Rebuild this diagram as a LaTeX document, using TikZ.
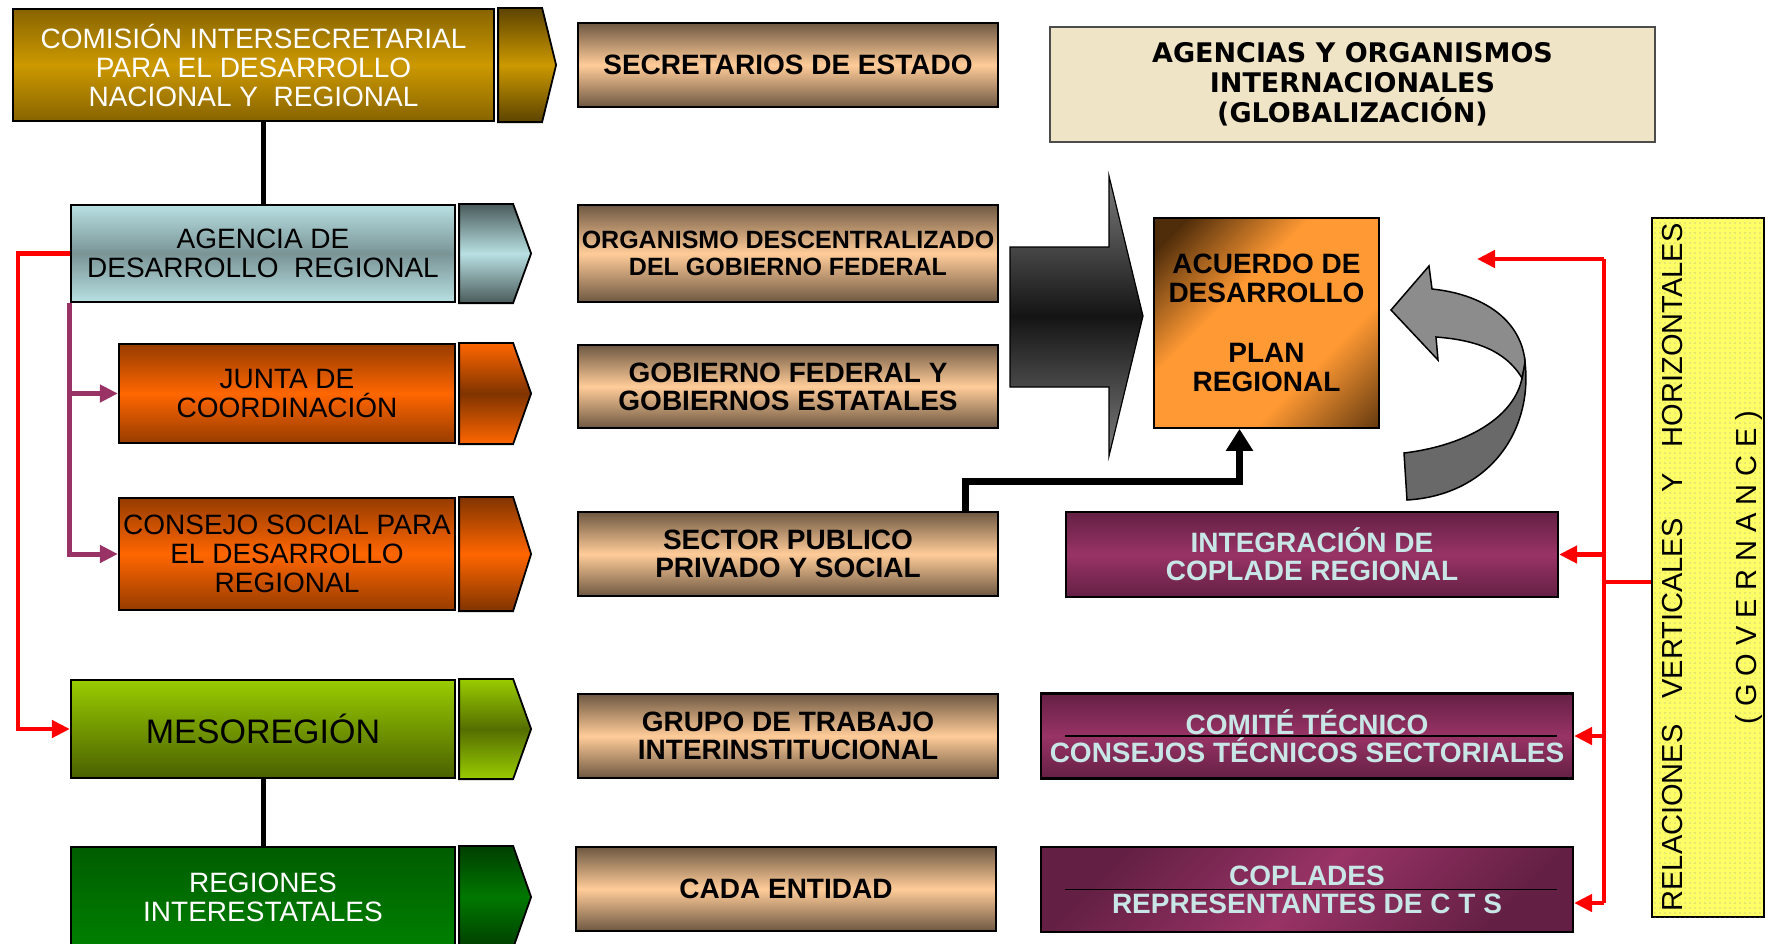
\documentclass[tikz,border=0pt]{standalone}
\usepackage{fontspec}
\setmainfont{Liberation Sans}
\newfontfamily\verdana{DejaVu Sans}
\usetikzlibrary{arrows.meta, patterns.meta}

\definecolor{acuOsc}{RGB}{80,45,10}
\definecolor{acuNar}{RGB}{255,153,51}
\pgfdeclareverticalshading{acuerdoSombra}{100bp}{color(0bp)=(acuOsc); color(12bp)=(acuOsc);
    color(35bp)=(acuNar); color(60bp)=(acuNar); color(80bp)=(acuOsc); color(100bp)=(acuOsc)}

\begin{document}
\begin{tikzpicture}[x=1pt, y=-1pt,
    caja/.style={draw=black, line width=2.2pt, inner sep=0pt, align=center},
    izq/.style={caja, minimum width=384, font=\fontsize{28}{29}\selectfont},
    centro/.style={caja, minimum width=420, minimum height=84, top color=tanOsc, bottom color=tanOsc, middle color=tanClaro, font=\bfseries\fontsize{28}{28}\selectfont},
    morado/.style={caja, minimum width=532, minimum height=85, top color=purOsc, bottom color=purOsc, middle color=purMed, text=purTexto, font=\bfseries\fontsize{28}{28}\selectfont},
    pestana/.style={draw=black, line width=1.8pt},
    conector/.style={line width=5pt},
    rojo/.style={red, line width=4.5pt},
    flechaRoja/.style={rojo, -{Triangle[length=18pt,width=17pt]}},
    flechaMorada/.style={purLinea, line width=5pt, -{Triangle[length=18pt,width=17pt]}},
    flechaNegra/.style={line width=7pt, -{Triangle[length=22pt,width=26pt]}}]
    % Colores
    \definecolor{oro}{RGB}{204,153,0}
    \definecolor{oroOsc}{RGB}{136,100,0}
    \definecolor{oroTab}{RGB}{92,67,0}
    \definecolor{celeste}{RGB}{184,224,226}
    \definecolor{celesteOsc}{RGB}{122,148,150}
    \definecolor{celTab}{RGB}{74,90,90}
    \definecolor{naranja}{RGB}{255,102,0}
    \definecolor{cafe}{RGB}{128,52,0}
    \definecolor{cafeBorde}{RGB}{150,60,0}
    \definecolor{verdeLima}{RGB}{153,204,0}
    \definecolor{verdeOliva}{RGB}{74,96,0}
    \definecolor{verdeMedio}{RGB}{85,110,0}
    \definecolor{verdeOsc}{RGB}{0,92,0}
    \definecolor{verde}{RGB}{0,128,0}
    \definecolor{verdeTab}{RGB}{0,62,0}
    \definecolor{verdeTabMed}{RGB}{0,120,0}
    \definecolor{tanOsc}{RGB}{110,88,66}
    \definecolor{tanClaro}{RGB}{255,204,153}
    \definecolor{purOsc}{RGB}{100,32,68}
    \definecolor{purMed}{RGB}{153,51,102}
    \definecolor{purTexto}{RGB}{200,230,230}
    \definecolor{purLinea}{RGB}{153,51,102}
    \definecolor{grisClaro}{RGB}{125,125,125}
    \definecolor{grisOsc}{RGB}{20,20,20}
    \definecolor{grisBanda}{RGB}{140,140,140}
    \definecolor{grisBandaOsc}{RGB}{105,105,105}
    \definecolor{amarillo}{RGB}{255,255,102}
    \definecolor{pergamino}{RGB}{240,228,198}

    \useasboundingbox (0,0) rectangle (1773,943);

    % Columna izquierda
    \node[izq, minimum width=481, minimum height=112, top color=oroOsc, bottom color=oroOsc, middle color=oro, text=white]
        (comision) at (253.5,65) {COMISIÓN INTERSECRETARIAL\\PARA EL DESARROLLO\\NACIONAL Y\ \ REGIONAL};
    \node[izq, minimum height=97, top color=celeste, bottom color=celeste, middle color=celesteOsc]
        (agencia) at (263,253.5) {AGENCIA DE\\DESARROLLO\ \ REGIONAL};
    \node[izq, minimum width=336, minimum height=99, top color=cafeBorde, bottom color=cafeBorde, middle color=naranja]
        (junta) at (287,393.5) {JUNTA DE\\COORDINACIÓN};
    \node[izq, minimum width=336, minimum height=112, top color=cafeBorde, bottom color=cafeBorde, middle color=naranja]
        (consejo) at (287,554) {CONSEJO SOCIAL PARA\\EL DESARROLLO\\REGIONAL};
    \node[izq, minimum height=98, top color=verdeLima, bottom color=verdeOliva, font=\fontsize{34}{34}\selectfont]
        (meso) at (263,729) {MESOREGIÓN};
    \node[izq, minimum height=100, top color=verdeOsc, bottom color=verde, text=white]
        (regiones) at (263,897) {REGIONES\\INTERESTATALES};

    % Pestañas
    \foreach \n/\tc/\mc/\w/\p in {comision/oroTab/oro/44/14, agencia/celTab/celeste/54/18,
            junta/naranja/cafe/54/18, consejo/cafe/naranja/54/18,
            meso/verdeLima/verdeMedio/54/18, regiones/verdeTab/verdeTabMed/54/18} {
        \shade[pestana, top color=\tc, bottom color=\tc, middle color=\mc]
            ([xshift=3]\n.north east) -- ++(\w,0) -- ([xshift=3+\w+\p]\n.east)
            -- ([xshift=3+\w]\n.south east) -- ([xshift=3]\n.south east) -- cycle;
    }

    \draw[conector] (agencia.north) -- (agencia.north |- comision.south);
    \draw[conector] (meso.south) -- (regiones.north);
    \draw[flechaMorada] (agencia.south west) |- (junta.west);
    \draw[flechaMorada] (agencia.south west) |- (consejo.west);
    \draw[flechaRoja] (agencia.west) -- ++(-52,0) |- (meso.west);

    % Columna central
    \node[centro] (secretarios) at (788,65) {SECRETARIOS DE ESTADO};
    \node[centro, minimum height=97, font=\bfseries\fontsize{25}{27}\selectfont]
        (organismo) at (788,253.5) {ORGANISMO DESCENTRALIZADO\\DEL GOBIERNO FEDERAL};
    \node[centro, minimum height=83] (gobierno) at (788,386.5) {GOBIERNO FEDERAL Y\\GOBIERNOS ESTATALES};
    \node[centro] (sector) at (788,554) {SECTOR PUBLICO\\PRIVADO Y SOCIAL};
    \node[centro] (grupo) at (788,736) {GRUPO DE TRABAJO\\INTERINSTITUCIONAL};
    \node[centro] (cada) at (786,889) {CADA ENTIDAD};

    % Lado derecho
    \node[caja, draw=black!70, line width=1.5pt, fill=pergamino, minimum width=605, minimum height=115,
        font=\verdana\bfseries\fontsize{27}{30}\selectfont]
        (agencias) at (1352.5,84.5) {AGENCIAS Y ORGANISMOS\\INTERNACIONALES\\(GLOBALIZACIÓN)};

    \shade[draw=black, line width=1.2pt, top color=grisClaro, bottom color=grisClaro, middle color=grisOsc]
        (1010,247) -- (1109,247) -- (1109,176) -- (1143,316) -- (1109,456) -- (1109,387) -- (1010,387) -- cycle;

    \node[caja, line width=1.8pt, minimum width=225, minimum height=210, shade, shading=acuerdoSombra,
        shading angle=45, font=\bfseries\fontsize{28}{29}\selectfont]
        (acuerdo) at (1266.5,323) {ACUERDO DE\\DESARROLLO\\[31pt]PLAN\\REGIONAL};

    \draw[flechaNegra] ([xshift=-34]sector.north east) -- ++(0,-29) -| ([xshift=-27]acuerdo.south);

    % Flecha curva
    \filldraw[draw=black, line width=1.5pt, fill=grisBandaOsc]
        (1404,453) .. controls (1470,445) and (1515,415) .. (1522,378) -- (1525,362)
        .. controls (1533,430) and (1490,495) .. (1407,500) -- cycle;
    \filldraw[draw=black, line width=1.5pt, fill=grisBanda]
        (1432,289) .. controls (1490,295) and (1522,325) .. (1525,362) -- (1522,378)
        .. controls (1505,350) and (1475,340) .. (1436,337) -- (1438,360) -- (1391,310) -- (1429,266) -- cycle;

    \node[morado, minimum width=492] (integracion) at (1312,554.5) {INTEGRACIÓN DE\\COPLADE REGIONAL};
    \node[morado] (comite) at (1307,736) {COMITÉ TÉCNICO\\CONSEJOS TÉCNICOS SECTORIALES};
    \node[morado, shading angle=45] (coplades) at (1307,889.5) {COPLADES\\REPRESENTANTES DE C T S};
    \foreach \n in {comite, coplades}
        \draw[line width=1.5pt] ([xshift=25]\n.west) -- ([xshift=-17]\n.east);

    \node[caja, line width=1.8pt, fill=amarillo, minimum width=112, minimum height=699,
        postaction={pattern={Dots[distance=5pt, radius=0.6pt]}, pattern color=gray!80}]
        (gov) at (1708,567.5) {};
    \node[rotate=90, align=center, font=\fontsize{29}{33}\selectfont] (govtexto) at ([xshift=4]gov.center)
        {RELACIONES\hspace{26pt}VERTICALES\hspace{26pt}Y\hspace{26pt}HORIZONTALES\\[41pt]( G O V E R N A N C E )};

    % Relaciones (rojo)
    \coordinate (busArriba) at (1604,259);
    \coordinate (busAbajo) at (1604,903);
    \coordinate (busGov) at (1604,582);
    \coordinate (puntaRoja) at (1477,259);
    \draw[rojo] (busArriba) -- (busAbajo);
    \draw[flechaRoja] (busArriba) -- (puntaRoja);
    \draw[flechaRoja] (busArriba |- integracion.east) -- (integracion.east);
    \draw[flechaRoja] (busArriba |- comite.east) -- (comite.east);
    \draw[flechaRoja] (busAbajo) -- (busAbajo -| coplades.east);
    \draw[rojo] (busGov) -- (busGov -| gov.west);
\end{tikzpicture}
\end{document}
